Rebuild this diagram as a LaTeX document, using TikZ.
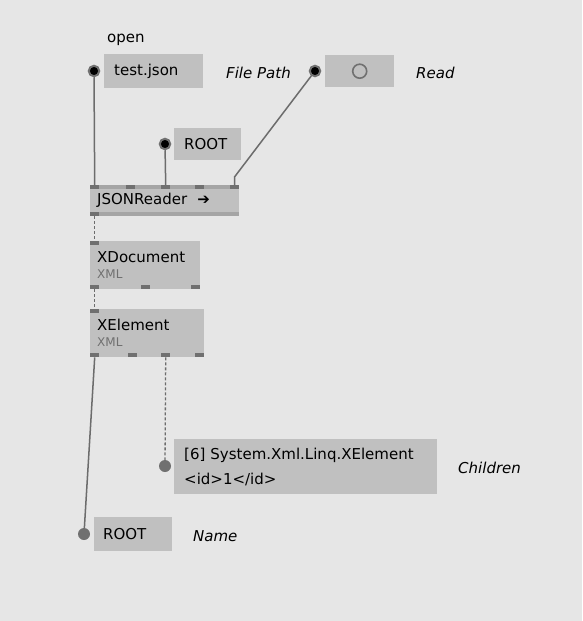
\documentclass[tikz,border=0pt]{standalone}
\usepackage{fontspec}
\setmainfont{DejaVu Sans}
\usetikzlibrary{positioning}

\definecolor{patchbg}{RGB}{230,230,230}
\definecolor{boxgray}{RGB}{192,192,192}
\definecolor{stripgray}{RGB}{165,165,165}
\definecolor{portgray}{RGB}{112,112,112}
\definecolor{linkgray}{RGB}{108,108,108}

\begin{document}
\begin{tikzpicture}[
  x=1pt,y=-1pt,
  font=\fontsize{15pt}{25pt}\selectfont,
  iobox/.style={fill=boxgray,anchor=north west,inner xsep=10pt,inner ysep=0pt,align=left},
  nodebox/.style={fill=boxgray,anchor=north west,inner xsep=7pt,inner ysep=0pt,align=left},
  port/.style={fill=portgray,anchor=north west,inner sep=0pt,minimum width=9pt,minimum height=4pt},
  pinin/.style={circle,fill=black,draw=portgray,line width=2pt,inner sep=0pt,minimum size=10.5pt},
  pinout/.style={circle,fill=portgray,inner sep=0pt,minimum size=12pt},
  lbl/.style={anchor=west,inner sep=0pt,font=\fontsize{15pt}{18pt}\selectfont\itshape},
  link/.style={draw=linkgray,line width=1.5pt},
  dlink/.style={link,line width=1.3pt,dash pattern=on 3pt off 2pt}
]
\fill[patchbg] (0,0) rectangle (582,621);
\useasboundingbox (0,0) rectangle (582,621);

% input boxes
\node[anchor=west,inner sep=0pt] (open) at (107,40) {open};
\node[iobox,text width=79pt,minimum height=34pt] (file) at (104,54) {test.json};
\node[pinin] (pinFile) at (94,71) {};
\node[lbl] (filePath) at (226,73) {File Path};

\node[iobox,minimum width=69pt,minimum height=32pt] (bang) at (325,55) {};
\draw[portgray,line width=1.6pt] (bang.center) circle (7pt);
\node[pinin] (pinBang) at (315,71) {};
\node[lbl] (read) at (416,73) {Read};

\node[iobox,text width=47pt,minimum height=32pt] (root) at (174,128) {ROOT};
\node[pinin] (pinRoot) at (165,144) {};

% JSONReader
\node[nodebox,text width=135pt,minimum height=31pt] (reader) at (90,185) {JSONReader\ \ ➔};
\fill[stripgray] (reader.north west) rectangle ([yshift=-4pt]reader.north east);
\fill[stripgray] ([yshift=4pt]reader.south west) rectangle (reader.south east);
\node[port] (j1) at (90,185) {};
\node[port] (j2) at (126,185) {};
\node[port] (j3) at (161,185) {};
\node[port] (j4) at (195,185) {};
\node[port] (j5) at (230,185) {};
\node[port] (jo) at (90,212) {};

% XDocument
\node[nodebox,text width=96pt,minimum height=48pt] (xdoc) at (90,241)
  {XDocument\\[-9pt]{\fontsize{12pt}{14pt}\selectfont\color{portgray}XML}};
\node[port] (d0) at (90,241) {};
\node[port] (d1) at (90,285) {};
\node[port] (d2) at (141,285) {};
\node[port] (d3) at (191,285) {};

% XElement
\node[nodebox,text width=100pt,minimum height=48pt] (xel) at (90,309)
  {XElement\\[-9pt]{\fontsize{12pt}{14pt}\selectfont\color{portgray}XML}};
\node[port] (e0) at (90,309) {};
\node[port] (e1) at (90,353) {};
\node[port] (e2) at (128,353) {};
\node[port] (e3) at (161,353) {};
\node[port] (e4) at (195,353) {};

% output boxes
\node[iobox,text width=243pt,minimum height=55pt] (children) at (174,439)
  {[6] System.Xml.Linq.XElement\\<id>1</id>};
\node[pinout] (pinChildren) at (165,466) {};
\node[lbl] (childrenLbl) at (458,468) {Children};

\node[iobox,inner xsep=9pt,text width=60pt,minimum height=34pt] (name) at (94,517) {ROOT};
\node[pinout] (pinName) at (84,534) {};
\node[lbl] (nameLbl) at (193,536) {Name};

% links
\coordinate (bend) at (234.5,177);
\draw[link] (pinFile) -- (j1.north);
\draw[link] (pinRoot) -- (j3.north);
\draw[link] (pinBang) -- (bend) -- (j5.north);
\draw[dlink] (jo.south) -- (d0.north);
\draw[dlink] (d1.south) -- (e0.north);
\draw[link] (e1.south) -- (pinName);
\draw[dlink] (e3.south) -- (pinChildren);
\end{tikzpicture}
\end{document}
